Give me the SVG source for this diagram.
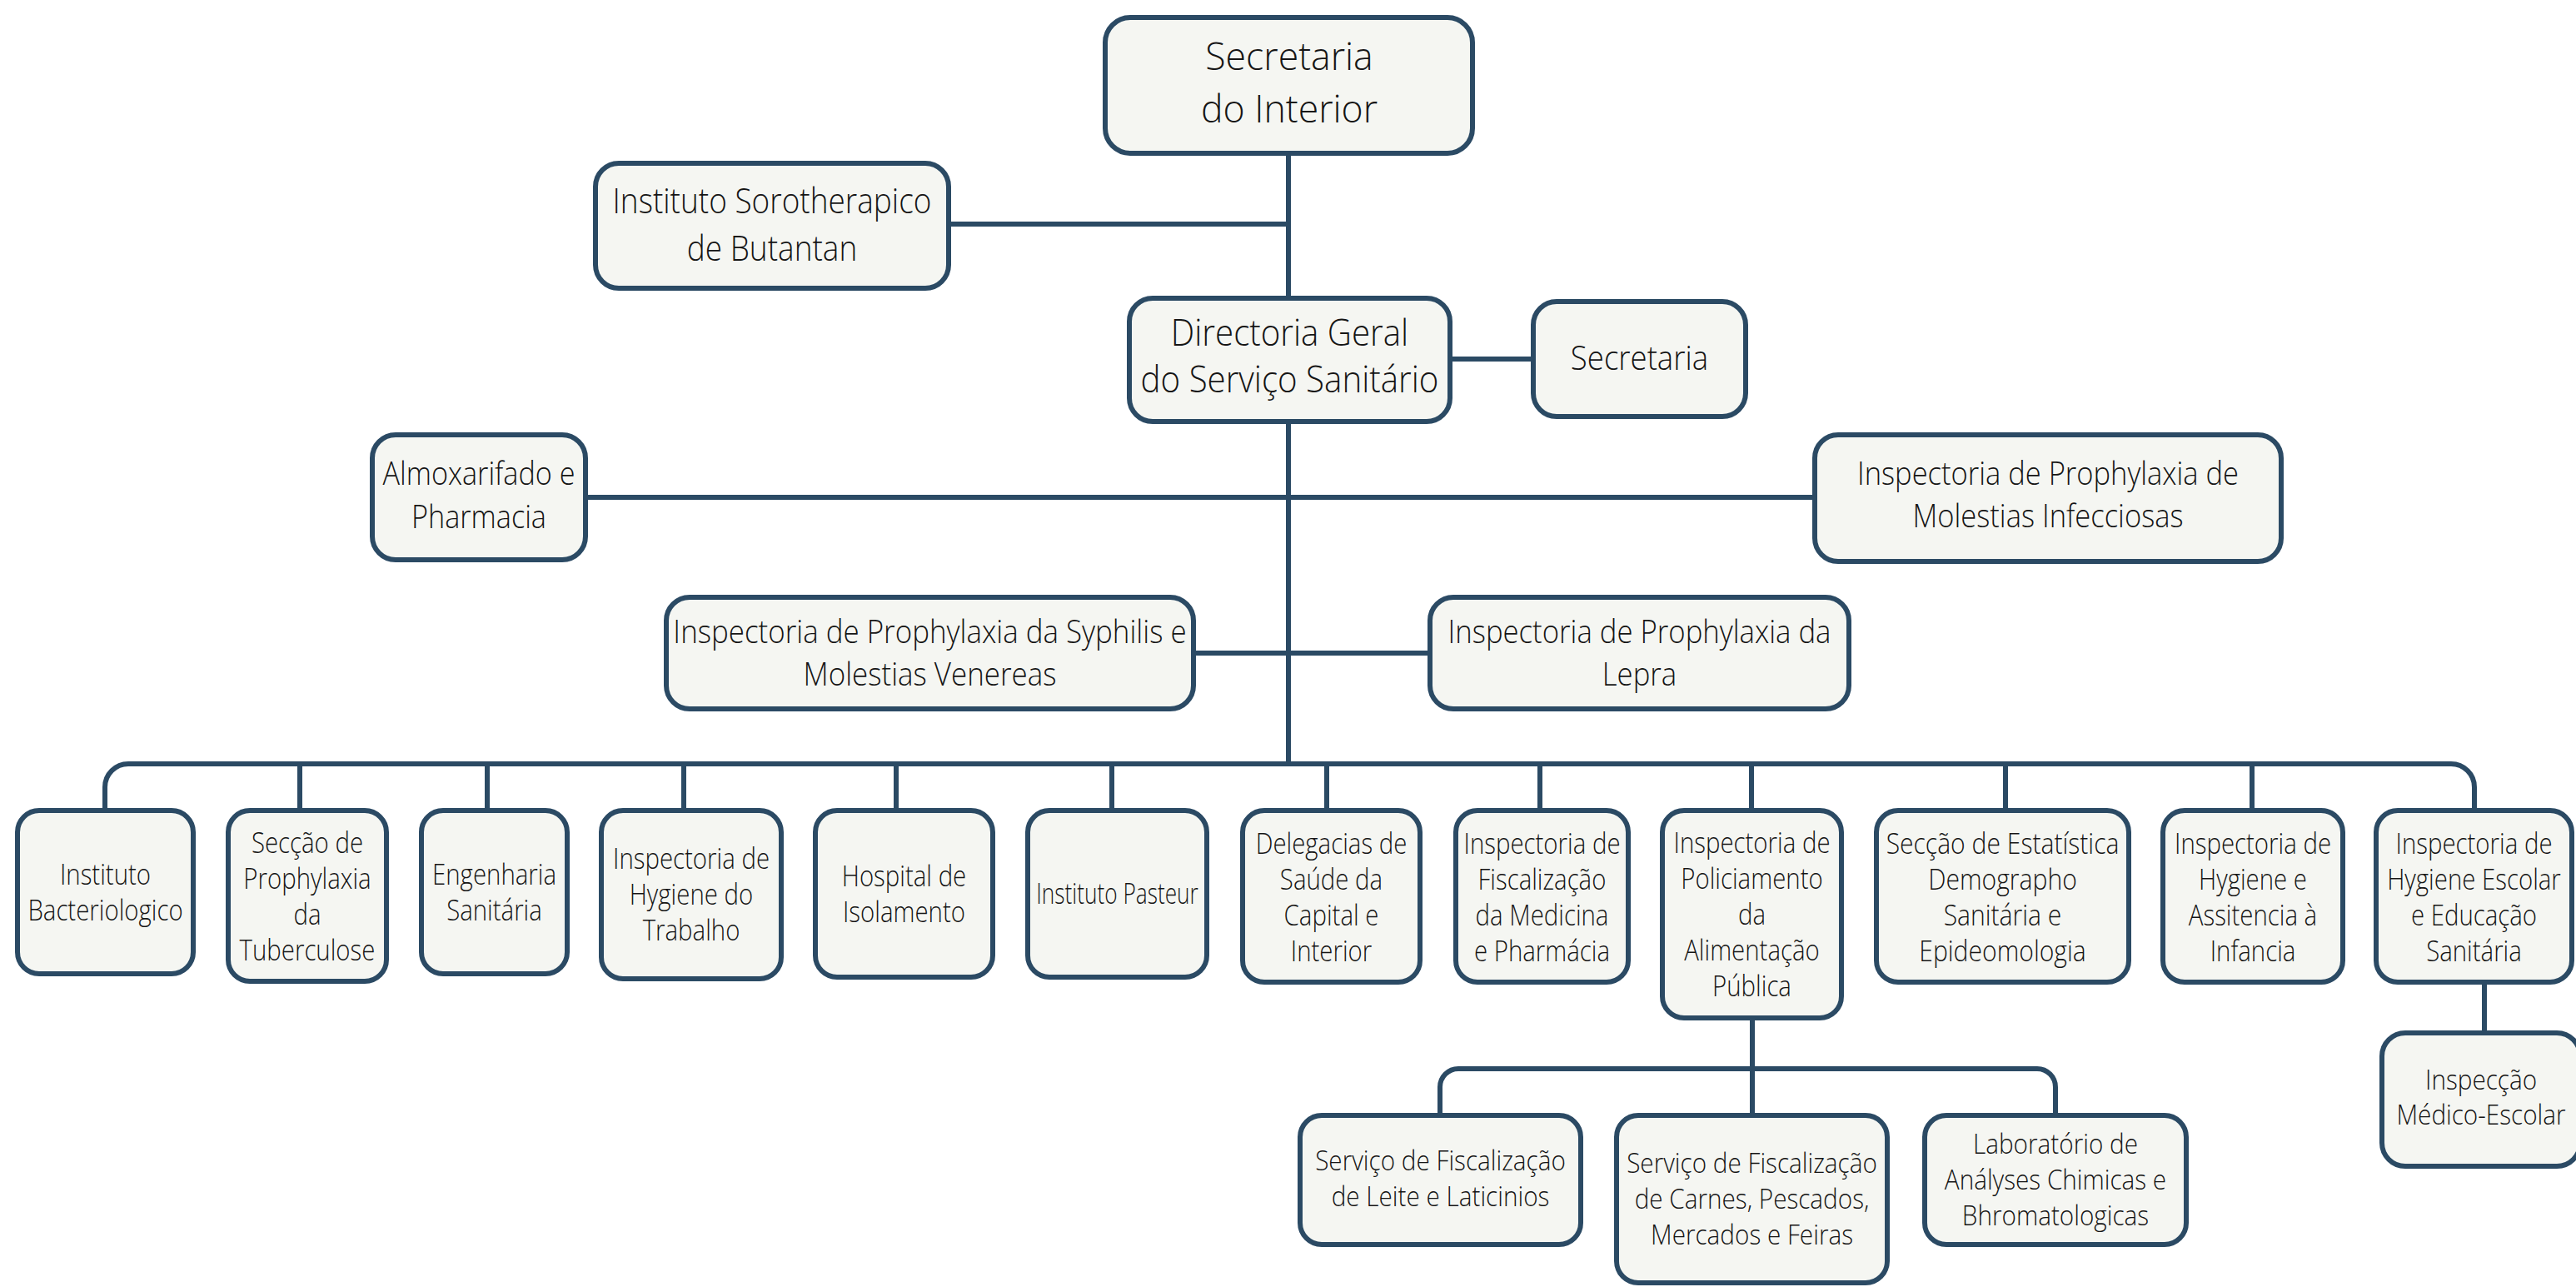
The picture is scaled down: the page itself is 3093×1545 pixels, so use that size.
<svg xmlns="http://www.w3.org/2000/svg" width="3093" height="1545" viewBox="0 0 3093 1545">
<style>
.box{fill:#f5f6f2;stroke:#2b4a64;stroke-width:6}
.ln{fill:none;stroke:#2b4a64;stroke-width:6}
text{font-family:"Open Sans",Lato,"Liberation Sans",sans-serif;font-weight:300;fill:#151515;text-anchor:middle}
.f46{font-size:46px}.f44{font-size:44px}.f43{font-size:43px}.f40{font-size:40px}.f39{font-size:39px}.f38{font-size:38px}.f35{font-size:35px}.f33{font-size:33px}
</style>
<rect width="3093" height="1545" fill="#ffffff"/>
<g id="connectors">
<path class="ln" d="M1547,187 V917"/>
<path class="ln" d="M1142,269 H1547"/>
<path class="ln" d="M1744,431 H1838"/>
<path class="ln" d="M706,597 H2176"/>
<path class="ln" d="M1436,784 H1714"/>
<path class="ln" d="M126,973 V945 A28,28 0 0 1 154,917 H2943 A28,28 0 0 1 2971,945 V973"/>
<path class="ln" d="M360,917 V973 M585,917 V973 M821,917 V973 M1076,917 V973 M1335,917 V973 M1593,917 V973 M1849,917 V973 M2103,917 V973 M2408,917 V973 M2704,917 V973"/>
<path class="ln" d="M2104,1225 V1339"/>
<path class="ln" d="M1729,1339 V1305 A22,22 0 0 1 1751,1283 H2446 A22,22 0 0 1 2468,1305 V1339"/>
<path class="ln" d="M2983,1182 V1240"/>
</g>
<g id="n-secretaria-interior">
<rect class="box" x="1327" y="21" width="441" height="163" rx="30"/>
<text class="f46" transform="translate(1548 0) scale(0.97 1)"><tspan x="0" y="84">Secretaria</tspan><tspan x="0" y="147">do Interior</tspan></text>
</g>
<g id="n-instituto-sorotherapico">
<rect class="box" x="715" y="196" width="424" height="150" rx="28"/>
<text class="f43" transform="translate(927 0) scale(0.86 1)"><tspan x="0" y="256">Instituto Sorotherapico</tspan><tspan x="0" y="313">de Butantan</tspan></text>
</g>
<g id="n-directoria">
<rect class="box" x="1356" y="358" width="385" height="148" rx="28"/>
<text class="f44" transform="translate(1548.5 0) scale(0.915 1)"><tspan x="0" y="415">Directoria Geral</tspan><tspan x="0" y="471">do Serviço Sanitário</tspan></text>
</g>
<g id="n-secretaria">
<rect class="box" x="1841" y="362" width="255" height="138" rx="28"/>
<text class="f40" transform="translate(1968.5 0) scale(0.915 1)"><tspan x="0" y="444">Secretaria</tspan></text>
</g>
<g id="n-almoxarifado">
<rect class="box" x="447" y="522" width="256" height="150" rx="28"/>
<text class="f38" transform="translate(575 0) scale(0.9 1)"><tspan x="0" y="582">Almoxarifado e</tspan><tspan x="0" y="634">Pharmacia</tspan></text>
</g>
<g id="n-infecciosas">
<rect class="box" x="2179" y="522" width="560" height="152" rx="28"/>
<text class="f39" transform="translate(2459 0) scale(0.885 1)"><tspan x="0" y="582">Inspectoria de Prophylaxia de</tspan><tspan x="0" y="633">Molestias Infecciosas</tspan></text>
</g>
<g id="n-syphilis">
<rect class="box" x="800" y="717" width="633" height="134" rx="28"/>
<text class="f39" transform="translate(1116.5 0) scale(0.895 1)"><tspan x="0" y="772">Inspectoria de Prophylaxia da Syphilis e</tspan><tspan x="0" y="823">Molestias Venereas</tspan></text>
</g>
<g id="n-lepra">
<rect class="box" x="1717" y="717" width="503" height="134" rx="28"/>
<text class="f39" transform="translate(1968.5 0) scale(0.89 1)"><tspan x="0" y="772">Inspectoria de Prophylaxia da</tspan><tspan x="0" y="823">Lepra</tspan></text>
</g>
<g id="n-bacteriologico">
<rect class="box" x="21" y="973" width="211" height="196" rx="26"/>
<text class="f35" transform="translate(126.5 0) scale(0.84 1)"><tspan x="0" y="1062">Instituto</tspan><tspan x="0" y="1105">Bacteriologico</tspan></text>
</g>
<g id="n-tuberculose">
<rect class="box" x="274" y="973" width="190" height="205" rx="26"/>
<text class="f35" transform="translate(369 0) scale(0.84 1)"><tspan x="0" y="1024">Secção de</tspan><tspan x="0" y="1067">Prophylaxia</tspan><tspan x="0" y="1110">da</tspan><tspan x="0" y="1153">Tuberculose</tspan></text>
</g>
<g id="n-engenharia">
<rect class="box" x="506" y="973" width="175" height="196" rx="26"/>
<text class="f35" transform="translate(593.5 0) scale(0.84 1)"><tspan x="0" y="1062">Engenharia</tspan><tspan x="0" y="1105">Sanitária</tspan></text>
</g>
<g id="n-trabalho">
<rect class="box" x="722" y="973" width="216" height="202" rx="26"/>
<text class="f35" transform="translate(830 0) scale(0.84 1)"><tspan x="0" y="1043">Inspectoria de</tspan><tspan x="0" y="1086">Hygiene do</tspan><tspan x="0" y="1129">Trabalho</tspan></text>
</g>
<g id="n-hospital">
<rect class="box" x="979" y="973" width="213" height="200" rx="26"/>
<text class="f35" transform="translate(1085.5 0) scale(0.84 1)"><tspan x="0" y="1064">Hospital de</tspan><tspan x="0" y="1107">Isolamento</tspan></text>
</g>
<g id="n-pasteur">
<rect class="box" x="1234" y="973" width="215" height="200" rx="26"/>
<text class="f35" transform="translate(1341.5 0) scale(0.75 1)"><tspan x="0" y="1085">Instituto Pasteur</tspan></text>
</g>
<g id="n-delegacias">
<rect class="box" x="1492" y="973" width="213" height="206" rx="26"/>
<text class="f35" transform="translate(1598.5 0) scale(0.84 1)"><tspan x="0" y="1025">Delegacias de</tspan><tspan x="0" y="1068">Saúde da</tspan><tspan x="0" y="1111">Capital e</tspan><tspan x="0" y="1154">Interior</tspan></text>
</g>
<g id="n-medicina">
<rect class="box" x="1748" y="973" width="207" height="206" rx="26"/>
<text class="f35" transform="translate(1851.5 0) scale(0.84 1)"><tspan x="0" y="1025">Inspectoria de</tspan><tspan x="0" y="1068">Fiscalização</tspan><tspan x="0" y="1111">da Medicina</tspan><tspan x="0" y="1154">e Pharmácia</tspan></text>
</g>
<g id="n-policiamento">
<rect class="box" x="1996" y="973" width="215" height="249" rx="26"/>
<text class="f35" transform="translate(2103.5 0) scale(0.84 1)"><tspan x="0" y="1024">Inspectoria de</tspan><tspan x="0" y="1067">Policiamento</tspan><tspan x="0" y="1110">da</tspan><tspan x="0" y="1153">Alimentação</tspan><tspan x="0" y="1196">Pública</tspan></text>
</g>
<g id="n-estatistica">
<rect class="box" x="2253" y="973" width="303" height="206" rx="26"/>
<text class="f35" transform="translate(2404.5 0) scale(0.86 1)"><tspan x="0" y="1025">Secção de Estatística</tspan><tspan x="0" y="1068">Demographo</tspan><tspan x="0" y="1111">Sanitária e</tspan><tspan x="0" y="1154">Epideomologia</tspan></text>
</g>
<g id="n-infancia">
<rect class="box" x="2597" y="973" width="216" height="206" rx="26"/>
<text class="f35" transform="translate(2705 0) scale(0.84 1)"><tspan x="0" y="1025">Inspectoria de</tspan><tspan x="0" y="1068">Hygiene e</tspan><tspan x="0" y="1111">Assitencia à</tspan><tspan x="0" y="1154">Infancia</tspan></text>
</g>
<g id="n-escolar">
<rect class="box" x="2853" y="973" width="235" height="206" rx="26"/>
<text class="f35" transform="translate(2970.5 0) scale(0.84 1)"><tspan x="0" y="1025">Inspectoria de</tspan><tspan x="0" y="1068">Hygiene Escolar</tspan><tspan x="0" y="1111">e Educação</tspan><tspan x="0" y="1154">Sanitária</tspan></text>
</g>
<g id="n-leite">
<rect class="box" x="1561" y="1339" width="337" height="155" rx="26"/>
<text class="f33" transform="translate(1729.5 0) scale(0.9 1)"><tspan x="0" y="1405">Serviço de Fiscalização</tspan><tspan x="0" y="1448">de Leite e Laticinios</tspan></text>
</g>
<g id="n-carnes">
<rect class="box" x="1941" y="1339" width="325" height="201" rx="26"/>
<text class="f33" transform="translate(2103.5 0) scale(0.9 1)"><tspan x="0" y="1408">Serviço de Fiscalização</tspan><tspan x="0" y="1451">de Carnes, Pescados,</tspan><tspan x="0" y="1494">Mercados e Feiras</tspan></text>
</g>
<g id="n-laboratorio">
<rect class="box" x="2311" y="1339" width="314" height="155" rx="26"/>
<text class="f33" transform="translate(2468 0) scale(0.9 1)"><tspan x="0" y="1385">Laboratório de</tspan><tspan x="0" y="1428">Anályses Chimicas e</tspan><tspan x="0" y="1471">Bhromatologicas</tspan></text>
</g>
<g id="n-inspeccao">
<rect class="box" x="2860" y="1240" width="238" height="160" rx="28"/>
<text class="f33" transform="translate(2979 0) scale(0.9 1)"><tspan x="0" y="1308">Inspecção</tspan><tspan x="0" y="1350">Médico-Escolar</tspan></text>
</g>
</svg>
